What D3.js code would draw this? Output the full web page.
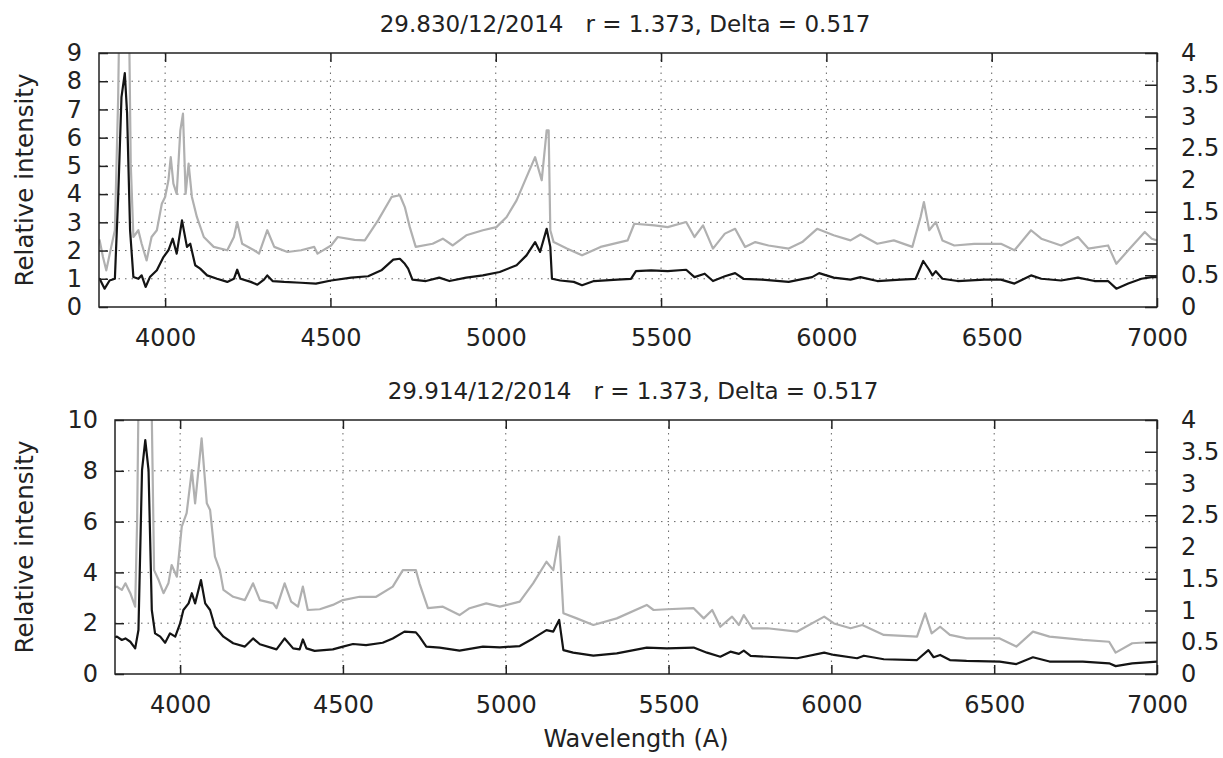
<!DOCTYPE html>
<html>
<head>
<meta charset="utf-8">
<script src="https://cdn.jsdelivr.net/npm/d3@7"></script>
<style>
  body { margin: 0; background: #fff; }
  text { font-family: "DejaVu Sans", Verdana, sans-serif; fill: #222; }
</style>
</head>
<body>
<div id="chart-area"></div>
<script>
/* global d3 */
// DATA  [wavelength, relative intensity]
const topTitle = "29.830/12/2014   r = 1.373, Delta = 0.517";
const bottomTitle = "29.914/12/2014   r = 1.373, Delta = 0.517";
const xTicks = [4000, 4500, 5000, 5500, 6000, 6500, 7000];
const topLeftTicks = [0, 1, 2, 3, 4, 5, 6, 7, 8, 9];
const bottomLeftTicks = [0, 2, 4, 6, 8, 10];
const rightTicks = [0, 0.5, 1, 1.5, 2, 2.5, 3, 3.5, 4];

const topBlack = [
  [3800, 1.0], [3802, 1.0], [3817, 0.65], [3832, 0.94], [3848, 1.0], [3858, 3.9], [3868, 7.44],
  [3878, 8.29], [3885, 6.85], [3894, 2.72], [3904, 1.06], [3919, 1.0], [3929, 1.12], [3941, 0.71],
  [3954, 1.06], [3975, 1.3], [3995, 1.77], [4010, 2.01], [4023, 2.42], [4035, 1.89], [4051, 3.07],
  [4066, 2.13], [4076, 2.24], [4091, 1.48], [4106, 1.36], [4127, 1.12], [4157, 1.0], [4188, 0.89],
  [4208, 1.0], [4218, 1.32], [4228, 1.0], [4259, 0.89], [4279, 0.79], [4299, 0.97], [4309, 1.12],
  [4325, 0.92], [4360, 0.89], [4411, 0.86], [4456, 0.83], [4502, 0.94], [4563, 1.04], [4614, 1.09],
  [4654, 1.3], [4690, 1.68], [4710, 1.71], [4725, 1.53], [4735, 1.36], [4748, 0.97], [4789, 0.92],
  [4829, 1.04], [4860, 0.92], [4911, 1.04], [4961, 1.12], [5012, 1.24], [5063, 1.48], [5093, 1.83],
  [5119, 2.3], [5134, 1.95], [5154, 2.77], [5165, 2.13], [5170, 1.0], [5195, 0.94], [5236, 0.89],
  [5261, 0.77], [5297, 0.92], [5368, 0.97], [5409, 1.0], [5424, 1.27], [5470, 1.3], [5520, 1.27],
  [5576, 1.32], [5601, 1.06], [5632, 1.18], [5657, 0.92], [5693, 1.09], [5724, 1.2], [5749, 1.0],
  [5805, 0.97], [5886, 0.89], [5957, 1.06], [5978, 1.2], [6022, 1.04], [6073, 0.97], [6103, 1.06],
  [6154, 0.92], [6225, 0.97], [6270, 1.0], [6293, 1.63], [6311, 1.32], [6321, 1.12], [6331, 1.27],
  [6351, 1.0], [6397, 0.92], [6478, 0.97], [6528, 0.97], [6569, 0.83], [6619, 1.12], [6650, 1.0],
  [6710, 0.94], [6761, 1.04], [6811, 0.92], [6852, 0.92], [6877, 0.65], [6913, 0.83], [6953, 1.0],
  [6984, 1.06], [7000, 1.06]
];

const topGray = [
  [3800, 2.4], [3802, 2.36], [3812, 1.77], [3822, 1.3], [3837, 2.13], [3848, 2.72], [3858, 7.44],
  [3866, 14], [3880, 15], [3891, 10], [3896, 5.08], [3904, 2.48], [3919, 2.72], [3929, 2.24],
  [3944, 1.65], [3959, 2.48], [3975, 2.72], [3990, 3.66], [4000, 3.9], [4010, 4.49], [4017, 5.31],
  [4025, 4.37], [4035, 4.01], [4046, 6.26], [4054, 6.85], [4062, 4.01], [4071, 5.08], [4081, 3.9],
  [4096, 3.19], [4117, 2.48], [4147, 2.13], [4188, 2.01], [4208, 2.48], [4218, 3.01], [4233, 2.24],
  [4269, 2.01], [4284, 1.89], [4309, 2.72], [4330, 2.13], [4370, 1.95], [4411, 2.01], [4451, 2.13],
  [4461, 1.89], [4502, 2.18], [4522, 2.48], [4573, 2.38], [4604, 2.36], [4644, 3.07], [4685, 3.9],
  [4710, 3.96], [4725, 3.54], [4740, 2.83], [4758, 2.13], [4809, 2.24], [4840, 2.42], [4870, 2.18],
  [4911, 2.54], [4961, 2.72], [5002, 2.83], [5033, 3.19], [5063, 3.78], [5093, 4.6], [5119, 5.31],
  [5139, 4.49], [5154, 6.26], [5160, 6.26], [5165, 2.72], [5175, 2.3], [5215, 2.07], [5261, 1.83],
  [5317, 2.13], [5399, 2.36], [5419, 2.95], [5480, 2.89], [5520, 2.83], [5576, 3.01], [5601, 2.48],
  [5627, 2.89], [5657, 2.07], [5693, 2.6], [5724, 2.77], [5754, 2.13], [5785, 2.3], [5825, 2.18],
  [5886, 2.07], [5927, 2.3], [5972, 2.77], [6022, 2.54], [6073, 2.36], [6103, 2.57], [6154, 2.24],
  [6204, 2.36], [6260, 2.13], [6285, 3.19], [6295, 3.72], [6311, 2.72], [6331, 3.01], [6351, 2.36],
  [6387, 2.18], [6447, 2.24], [6528, 2.24], [6569, 2.01], [6619, 2.72], [6650, 2.42], [6710, 2.18],
  [6761, 2.48], [6792, 2.07], [6852, 2.18], [6877, 1.53], [6913, 2.01], [6963, 2.66], [6984, 2.42],
  [7000, 2.36]
];

const bottomBlack = [
  [3800, 1.45], [3806, 1.47], [3821, 1.34], [3832, 1.4], [3847, 1.27], [3862, 1.01], [3872, 1.73],
  [3883, 8.03], [3893, 9.21], [3903, 8.03], [3913, 2.52], [3923, 1.6], [3939, 1.47], [3954, 1.23],
  [3969, 1.6], [3985, 1.47], [4000, 1.99], [4010, 2.52], [4026, 2.78], [4036, 3.18], [4046, 2.78],
  [4064, 3.7], [4077, 2.78], [4092, 2.52], [4107, 1.86], [4133, 1.47], [4163, 1.21], [4199, 1.08],
  [4224, 1.4], [4245, 1.17], [4296, 0.97], [4321, 1.4], [4347, 1.01], [4367, 0.97], [4377, 1.36],
  [4388, 1.01], [4413, 0.91], [4469, 0.97], [4500, 1.08], [4531, 1.18], [4571, 1.14], [4622, 1.23],
  [4653, 1.4], [4689, 1.67], [4724, 1.64], [4735, 1.47], [4756, 1.08], [4797, 1.04], [4858, 0.92],
  [4930, 1.08], [4982, 1.05], [5043, 1.1], [5084, 1.4], [5125, 1.73], [5146, 1.67], [5164, 2.13],
  [5177, 0.94], [5207, 0.84], [5269, 0.72], [5341, 0.81], [5433, 1.04], [5495, 1.01], [5577, 1.04],
  [5618, 0.84], [5659, 0.68], [5690, 0.88], [5716, 0.79], [5731, 0.92], [5752, 0.71], [5803, 0.68],
  [5895, 0.62], [5978, 0.84], [6008, 0.75], [6079, 0.62], [6100, 0.72], [6161, 0.58], [6263, 0.55],
  [6298, 0.94], [6314, 0.66], [6334, 0.75], [6364, 0.55], [6415, 0.52], [6517, 0.49], [6568, 0.39],
  [6619, 0.66], [6670, 0.49], [6772, 0.49], [6853, 0.42], [6873, 0.31], [6924, 0.42], [7000, 0.49]
];

const bottomGray = [
  [3800, 3.4], [3806, 3.44], [3821, 3.31], [3832, 3.57], [3847, 3.18], [3862, 2.65], [3868, 6.06],
  [3875, 14], [3895, 16], [3912, 11], [3920, 4.09], [3934, 3.7], [3949, 3.18], [3964, 3.57],
  [3974, 4.29], [3990, 3.83], [4005, 5.8], [4020, 6.33], [4036, 8.03], [4046, 6.72], [4066, 9.28],
  [4082, 6.72], [4092, 6.46], [4107, 4.62], [4122, 4.09], [4133, 3.31], [4163, 3.04], [4199, 2.91],
  [4224, 3.57], [4245, 2.91], [4286, 2.78], [4296, 2.59], [4321, 3.57], [4341, 2.85], [4362, 2.65],
  [4377, 3.44], [4392, 2.52], [4429, 2.55], [4469, 2.72], [4500, 2.91], [4551, 3.04], [4602, 3.04],
  [4653, 3.44], [4684, 4.09], [4724, 4.09], [4735, 3.57], [4761, 2.59], [4807, 2.65], [4858, 2.32],
  [4889, 2.59], [4940, 2.78], [4982, 2.65], [5043, 2.85], [5084, 3.57], [5125, 4.42], [5146, 4.09],
  [5164, 5.41], [5177, 2.39], [5218, 2.19], [5269, 1.93], [5341, 2.19], [5433, 2.72], [5454, 2.52],
  [5495, 2.55], [5577, 2.59], [5608, 2.19], [5634, 2.52], [5659, 1.86], [5695, 2.26], [5716, 1.93],
  [5731, 2.32], [5757, 1.8], [5803, 1.8], [5895, 1.67], [5978, 2.26], [6008, 1.99], [6059, 1.8],
  [6095, 1.93], [6161, 1.54], [6263, 1.47], [6288, 2.39], [6308, 1.6], [6334, 1.86], [6364, 1.54],
  [6415, 1.4], [6517, 1.4], [6568, 1.08], [6619, 1.67], [6670, 1.47], [6772, 1.34], [6853, 1.27],
  [6873, 0.84], [6924, 1.21], [7000, 1.27]
];

const W = 1223, H = 758;

let svg = d3
  .select("#chart-area")
  .append("svg")
  .attr("width", W)
  .attr("height", H);

function drawPanel(p) {
  let x = d3.scaleLinear().domain([3800, 7000]).range([p.left, p.right]);
  let y = d3.scaleLinear().domain([0, p.yMax]).range([p.bottom, p.top]);
  let y2 = d3.scaleLinear().domain([0, 4]).range([p.bottom, p.top]);

  let g = svg.append("g");

  // GRID
  g.selectAll(".vgrid")
    .data(xTicks.slice(0, -1))
    .enter()
    .append("line")
    .attr("x1", d => x(d)).attr("x2", d => x(d))
    .attr("y1", p.top).attr("y2", p.bottom)
    .attr("stroke", "#666")
    .attr("stroke-dasharray", "1.5,5");

  g.selectAll(".hgrid")
    .data(p.gridTicks)
    .enter()
    .append("line")
    .attr("x1", p.left).attr("x2", p.right)
    .attr("y1", d => y(d)).attr("y2", d => y(d))
    .attr("stroke", "#666")
    .attr("stroke-dasharray", "1.5,5");

  // LINES
  let clipId = "clip" + p.id;
  svg.append("clipPath").attr("id", clipId)
    .append("rect")
    .attr("x", p.left).attr("y", p.top)
    .attr("width", p.right - p.left).attr("height", p.bottom - p.top);

  let line = d3.line().x(d => x(d[0])).y(d => y(d[1]));

  g.append("path")
    .datum(p.gray)
    .attr("clip-path", "url(#" + clipId + ")")
    .attr("fill", "none")
    .attr("stroke", "#b0b0b0")
    .attr("stroke-width", 2.2)
    .attr("stroke-linejoin", "round")
    .attr("d", line);

  g.append("path")
    .datum(p.black)
    .attr("clip-path", "url(#" + clipId + ")")
    .attr("fill", "none")
    .attr("stroke", "#141414")
    .attr("stroke-width", 2.2)
    .attr("stroke-linejoin", "round")
    .attr("d", line);

  // AXIS
  let xAxis = d3.axisBottom(x).tickValues(xTicks).tickFormat(d3.format("d"))
    .tickSizeInner(-9).tickSizeOuter(0).tickPadding(22);
  let xTop = d3.axisTop(x).tickValues(xTicks).tickSizeInner(-9).tickSizeOuter(0).tickFormat("");
  let yAxis = d3.axisLeft(y).tickValues(p.leftTicks).tickFormat(d => d)
    .tickSizeInner(-9).tickSizeOuter(0).tickPadding(17);
  let yRight = d3.axisRight(y2).tickValues(rightTicks).tickFormat(d => d)
    .tickSizeInner(-12).tickSizeOuter(0).tickPadding(24);

  [
    [xAxis, "translate(0," + p.bottom + ")"],
    [xTop, "translate(0," + p.top + ")"],
    [yAxis, "translate(" + p.left + ",0)"],
    [yRight, "translate(" + p.right + ",0)"]
  ].forEach(function(a) {
    let ax = g.append("g").attr("transform", a[1]).call(a[0]);
    ax.select(".domain").remove();
    ax.selectAll(".tick line").attr("stroke", "#222").attr("stroke-width", 1.5);
    ax.selectAll("text").attr("font-size", 24).attr("font-family", "DejaVu Sans, Verdana, sans-serif").attr("fill", "#222");
  });

  g.append("rect")
    .attr("x", p.left).attr("y", p.top)
    .attr("width", p.right - p.left).attr("height", p.bottom - p.top)
    .attr("fill", "none")
    .attr("stroke", "#222")
    .attr("stroke-width", 1.5);

  g.append("text")
    .attr("x", (p.left + p.right) / 2 - 3)
    .attr("y", p.top - 29)
    .attr("dy", "0.35em")
    .attr("font-size", 23)
    .style("text-anchor", "middle")
    .style("white-space", "pre")
    .text(p.title);

  g.append("text")
    .attr("transform", "translate(24," + (p.top + p.bottom) / 2 + ") rotate(-90)")
    .attr("dy", "0.35em")
    .attr("font-size", 24.5)
    .style("text-anchor", "middle")
    .text("Relative intensity");
}

drawPanel({
  id: "top", left: 99, right: 1157, top: 53, bottom: 307, yMax: 9,
  leftTicks: topLeftTicks, gridTicks: [1, 2, 3, 4, 5, 6, 7, 8],
  black: topBlack, gray: topGray, title: topTitle
});

drawPanel({
  id: "bottom", left: 115, right: 1157, top: 420, bottom: 674, yMax: 10,
  leftTicks: bottomLeftTicks, gridTicks: [2, 4, 6, 8],
  black: bottomBlack, gray: bottomGray, title: bottomTitle
});

svg.append("text")
  .attr("x", 636)
  .attr("y", 739)
  .attr("dy", "0.35em")
  .attr("font-size", 24)
  .style("text-anchor", "middle")
  .text("Wavelength (A)");
</script>
</body>
</html>
